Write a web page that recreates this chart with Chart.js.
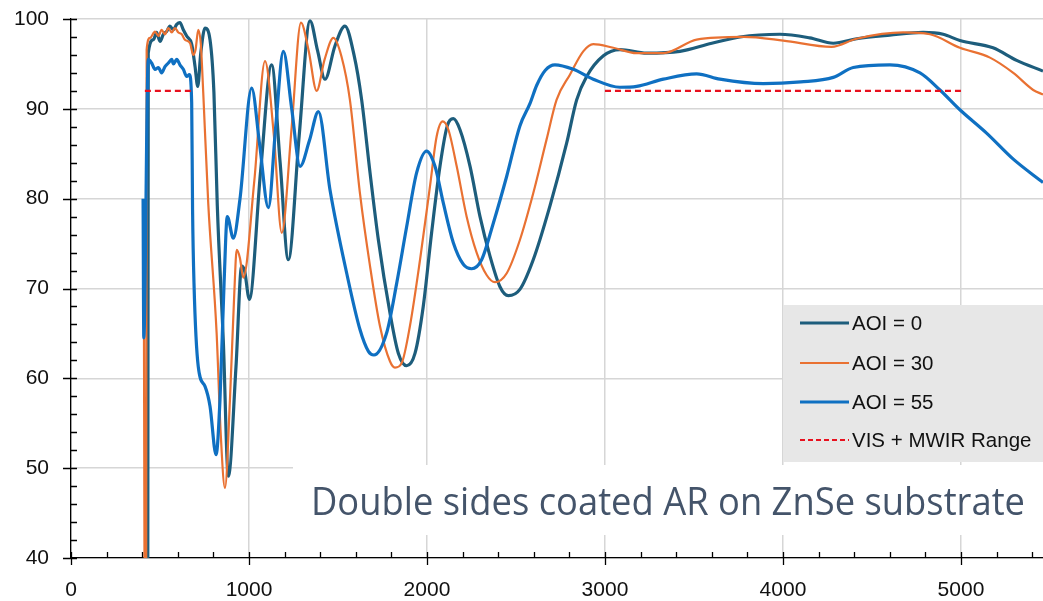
<!DOCTYPE html>
<html>
<head>
<meta charset="utf-8">
<script src="https://cdn.jsdelivr.net/npm/chart.js@4.4.1/dist/chart.umd.min.js"></script>
<style>
  html, body { margin: 0; padding: 0; background: #fff; }
  #chart { display: block; }
</style>
</head>
<body>
<canvas id="chart" width="1043" height="601"></canvas>
<script>
// wavelength (nm) and transmission (%)
const aoi0Wl = [420, 431, 434, 463, 481, 500, 519, 537, 556, 575,
  594, 612, 631, 650, 678, 697, 712, 729, 753, 781,
  803, 822, 856, 884, 927, 959, 975, 1002, 1065, 1127,
  1175, 1221, 1282, 1343, 1385, 1427, 1483, 1539, 1590, 1633,
  1680, 1727, 1792, 1839, 1886, 1933, 1979, 2026, 2073, 2114,
  2148, 2185, 2242, 2298, 2354, 2410, 2457, 2522, 2597, 2691,
  2785, 2841, 2897, 2991, 3084, 3234, 3421, 3600, 3758, 3983,
  4150, 4283, 4414, 4600, 4788, 4900, 4994, 5180, 5313, 5461];
const aoi0T = [30, 30, 96.2, 97.7, 98.5, 97.5, 98.3, 98.6, 99.2, 98.8,
  99.4, 99.6, 98.8, 98.1, 97.2, 94.7, 92.5, 96.2, 99.0, 97.7,
  91.8, 79.2, 64, 49.1, 61.3, 72.5, 72.0, 68.8, 83, 94.9,
  84, 73.2, 87, 99.8, 96.5, 93.3, 97, 99.2, 96, 91.0,
  82.9, 75.4, 67.3, 62.8, 61.4, 62.8, 68.0, 76.2, 83.6, 88.1,
  88.9, 87.7, 83.6, 78.0, 73.6, 70.2, 69.2, 69.9, 73.2, 79.2,
  86.2, 91.0, 93.6, 95.9, 96.6, 96.2, 96.4, 97.3, 98.0, 98.3,
  97.9, 97.3, 97.8, 98.2, 98.5, 98.3, 97.6, 96.8, 95.4, 94.2];

const aoi30Wl = [410, 415, 422, 425, 444, 472, 491, 509, 528, 547,
  566, 584, 603, 622, 640, 669, 687, 700, 715, 729,
  743, 771, 818, 841, 865, 893, 916, 931, 949, 968,
  1030, 1090, 1140, 1184, 1240, 1292, 1335, 1380, 1425, 1474,
  1520, 1567, 1624, 1680, 1736, 1792, 1820, 1858, 1904, 1961,
  2017, 2054, 2088, 2120, 2167, 2223, 2279, 2335, 2382, 2448,
  2522, 2597, 2672, 2728, 2803, 2878, 2934, 3047, 3178, 3328,
  3515, 3777, 4002, 4273, 4414, 4676, 4826, 4994, 5163, 5294,
  5406, 5461];
const aoi30T = [64.5, 30, 30, 96.6, 97.9, 98.6, 98.1, 98.8, 98.3, 99.0,
  98.5, 99.0, 98.5, 98.3, 97.7, 97.3, 96.0, 96.6, 98.8, 97.3,
  91.8, 79.5, 65.1, 53.9, 47.8, 57.6, 68.8, 74.3, 73.4, 71.2,
  82, 95.3, 87, 76.2, 88, 99.6, 96.5, 92, 95.5, 97.9,
  95.8, 91, 80.5, 72.5, 65.8, 61.9, 61.2, 61.7, 65.8, 73.2,
  81.4, 86.9, 88.6, 87.7, 83.6, 78.0, 74.0, 71.5, 70.7, 71.7,
  75.4, 80.6, 86.6, 91.0, 93.8, 96.4, 97.2, 96.8, 96.2, 96.2,
  97.7, 98.0, 97.6, 96.9, 97.8, 98.5, 98.3, 96.8, 95.7, 94.0,
  92.1, 91.6];

const aoi55Wl = [405, 409, 434, 453, 472, 491, 509, 528,
  547, 566, 575, 594, 612, 631, 650, 665, 678, 683,
  691, 715, 753, 781, 815, 837, 860, 878, 912, 949,
  1015, 1060, 1109, 1150, 1193, 1240, 1287, 1340, 1390, 1455,
  1549, 1624, 1671, 1702, 1774, 1830, 1886, 1942, 1998, 2045,
  2092, 2148, 2204, 2251, 2307, 2373, 2448, 2522, 2579, 2616,
  2665, 2719, 2822, 2934, 3084, 3178, 3328, 3515, 3646, 3890,
  4100, 4283, 4395, 4601, 4770, 4882, 4994, 5144, 5294, 5461];
const aoi55T = [80, 64.5, 95.5, 95.1, 94.4, 94.6, 94.0, 94.7,
  95.1, 95.5, 95.0, 95.5, 94.9, 94.4, 93.6, 93.8, 90.7, 78.8,
  70.6, 61.3, 59.1, 56.9, 51.5, 57.6, 70.6, 78.0, 75.6, 79.9,
  92.3, 86, 79, 88, 96.4, 90, 83.6, 86.5, 89.7, 81.0,
  71.7, 65.4, 63.0, 62.6, 65.1, 70.6, 76.9, 82.9, 85.3, 83.6,
  79.5, 75.1, 72.7, 72.2, 73.2, 77.3, 82.5, 88.1, 90.6, 92.6,
  94.3, 94.9, 94.4, 93.3, 92.4, 92.5, 93.3, 93.9, 93.3, 92.8,
  93.0, 93.5, 94.6, 94.9, 94.0, 92.1, 89.9, 87.3, 84.4, 81.8];

// VIS and MWIR target bands (null splits the two segments)
const rangeWl = [415, 690, 1800, 3000, 5000];
const rangeT = [92, 92, null, 92, 92];

const xTicks = [0, 1000, 2000, 3000, 4000, 5000];
const yTicks = [40, 50, 60, 70, 80, 90, 100];
const chartNote = 'Double sides coated AR on ZnSe substrate';

function toPoints(xs, ys) {
  return xs.map((x, i) => ({ x: x, y: ys[i] }));
}

// Excel style tick marks: major cross the axis, minor sit inside
const axisTicks = {
  id: 'axisTicks',
  afterDraw(chart) {
    const { ctx, chartArea, scales } = chart;
    const left = chartArea.left, bottom = chartArea.bottom;
    ctx.save();
    ctx.strokeStyle = '#000';
    ctx.lineWidth = 1.3;
    ctx.beginPath();
    for (let v = 40; v <= 100; v += 2) {
      const py = Math.round(scales.y.getPixelForValue(v)) + 0.5;
      const major = v % 10 === 0;
      ctx.moveTo(left - (major ? 8 : 0), py);
      ctx.lineTo(left + 6, py);
    }
    for (let v = 0; v <= scales.x.max; v += 200) {
      const px = Math.round(scales.x.getPixelForValue(v)) + 0.5;
      const major = v % 1000 === 0;
      ctx.moveTo(px, bottom - 6);
      ctx.lineTo(px, bottom + (major ? 7 : 0));
    }
    ctx.stroke();
    ctx.restore();
  }
};

// white note box and grey legend box, drawn over the grid
const overlays = {
  id: 'overlays',
  beforeDatasetsDraw(chart) {
    const ctx = chart.ctx;
    ctx.save();
    ctx.fillStyle = '#fff';
    ctx.fillRect(293, 465, 750, 70);
    ctx.fillStyle = '#e7e7e7';
    ctx.fillRect(783, 305, 260, 157);
    ctx.restore();
  },
  afterDraw(chart) {
    const ctx = chart.ctx;
    ctx.save();
    // note text
    ctx.font = '39px "Open Sans"';
    ctx.fillStyle = '#44546a';
    ctx.textBaseline = 'alphabetic';
    const w = ctx.measureText(chartNote).width;
    ctx.translate(311, 515);
    ctx.scale(714 / w, 1);
    ctx.fillText(chartNote, 0, 0);
    ctx.restore();

    // legend
    ctx.save();
    const rows = [323, 363, 402, 440];
    ctx.font = '20.5px "Liberation Sans"';
    ctx.textBaseline = 'middle';
    chart.data.datasets.forEach((ds, i) => {
      const y = rows[i];
      ctx.strokeStyle = ds.borderColor;
      ctx.lineWidth = ds.borderWidth;
      ctx.setLineDash(ds.borderDash ? [5, 3] : []);
      ctx.beginPath();
      ctx.moveTo(800, y);
      ctx.lineTo(849, y);
      ctx.stroke();
      ctx.setLineDash([]);
      ctx.fillStyle = '#111';
      ctx.fillText(ds.label, 852, y + 1);
    });
    ctx.restore();
  }
};

const ctx = document.getElementById('chart').getContext('2d');
new Chart(ctx, {
  type: 'line',
  data: {
    datasets: [
      {
        label: 'AOI = 0',
        data: toPoints(aoi0Wl, aoi0T),
        borderColor: '#1d5d7c',
        borderWidth: 3.2,
        cubicInterpolationMode: 'monotone',
        order: 3
      },
      {
        label: 'AOI = 30',
        data: toPoints(aoi30Wl, aoi30T),
        borderColor: '#e97132',
        borderWidth: 2.2,
        cubicInterpolationMode: 'monotone',
        order: 2
      },
      {
        label: 'AOI = 55',
        data: toPoints(aoi55Wl, aoi55T),
        borderColor: '#0f70c2',
        borderWidth: 3.2,
        cubicInterpolationMode: 'monotone',
        order: 1
      },
      {
        label: 'VIS + MWIR Range',
        data: toPoints(rangeWl, rangeT),
        borderColor: '#e8101e',
        borderWidth: 2.2,
        borderDash: [6, 4],
        spanGaps: false,
        order: 0
      }
    ]
  },
  options: {
    responsive: false,
    animation: false,
    devicePixelRatio: 1,
    layout: { padding: { top: 19, right: 0, left: 0, bottom: 0 } },
    elements: { point: { radius: 0 }, line: { tension: 0 } },
    plugins: {
      legend: { display: false },
      tooltip: { enabled: false }
    },
    scales: {
      x: {
        type: 'linear',
        min: 0,
        max: 5461,
        afterFit: function (scale) { scale.height = 43; },
        afterBuildTicks: function (scale) {
          scale.ticks = xTicks.map(v => ({ value: v }));
        },
        ticks: {
          padding: 20,
          color: '#111',
          font: { family: '"Liberation Sans"', size: 21 },
          callback: function (value) { return String(value); }
        },
        grid: { color: '#d6d6d6', lineWidth: 1.5, drawTicks: false },
        border: { color: '#000', width: 1.3 }
      },
      y: {
        min: 40,
        max: 100,
        afterFit: function (scale) {
          scale.width = 71;
          scale.paddingTop = 0;
          scale.paddingBottom = 0;
        },
        afterBuildTicks: function (scale) {
          scale.ticks = yTicks.map(v => ({ value: v }));
        },
        ticks: {
          padding: 22,
          color: '#111',
          font: { family: '"Liberation Sans"', size: 21 },
          callback: function (value) { return String(value); }
        },
        grid: { color: '#d6d6d6', lineWidth: 1.5, drawTicks: false },
        border: { color: '#000', width: 1.3 }
      }
    }
  },
  plugins: [overlays, axisTicks]
});
</script>
</body>
</html>
